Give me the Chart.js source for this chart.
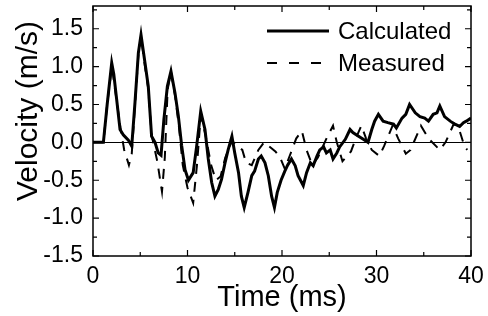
<!DOCTYPE html>
<html lang="en">
<head>
  <meta charset="UTF-8">
  <title>Velocity vs Time</title>
  <script src="https://cdn.jsdelivr.net/npm/chart.js"></script>
  <style>
    body { margin: 0; background: #fff; }
  </style>
</head>
<body>
<canvas id="myChart" width="488" height="316"></canvas>

<script>
  // values
  const calcTime = [0, 1.1, 1.5, 1.98, 2.2, 2.5, 2.86, 3.2, 3.74, 4.1, 4.44, 4.8, 5.08, 5.5, 5.85, 6.2, 6.56, 6.9, 7.2, 7.5, 7.87, 8.25, 8.68, 9.03, 9.38, 9.74, 10.1, 10.6, 10.97, 11.4, 11.85, 12.2, 12.56, 12.9, 13.26, 13.6, 13.97, 14.3, 14.7, 15.0, 15.4, 15.7, 16.0, 16.4, 16.8, 17.1, 17.5, 17.8, 18.2, 18.55, 18.9, 19.2, 19.5, 19.9, 20.3, 20.6, 21.0, 21.4, 21.7, 22.25, 22.6, 23.0, 23.3, 23.7, 24.0, 24.4, 24.7, 25.1, 25.4, 25.8, 26.1, 26.7, 27.2, 27.5, 28.1, 28.6, 29.1, 29.5, 29.8, 30.2, 30.7, 31.2, 31.8, 32.1, 32.7, 33.1, 33.5, 34.1, 34.6, 35.1, 35.5, 36.0, 36.4, 36.7, 37.2, 37.8, 38.3, 38.8, 39.2, 39.5, 40];
  const calcVel = [0, 0, 0.5, 1.05, 0.9, 0.57, 0.17, 0.1, 0.03, -0.05, 0.52, 1.18, 1.42, 1.05, 0.74, 0.08, 0.0, -0.14, -0.17, 0.3, 0.74, 0.94, 0.65, 0.35, -0.04, -0.36, -0.5, -0.4, -0.05, 0.41, 0.17, -0.22, -0.53, -0.71, -0.62, -0.49, -0.27, -0.1, 0.08, -0.14, -0.4, -0.71, -0.86, -0.66, -0.44, -0.38, -0.22, -0.18, -0.27, -0.44, -0.71, -0.86, -0.66, -0.5, -0.38, -0.3, -0.22, -0.31, -0.44, -0.57, -0.4, -0.27, -0.31, -0.18, -0.1, -0.06, -0.14, -0.1, -0.22, -0.14, -0.06, 0.04, 0.17, 0.13, 0.08, 0.04, 0.0, 0.17, 0.28, 0.37, 0.28, 0.26, 0.24, 0.19, 0.32, 0.37, 0.5, 0.39, 0.34, 0.32, 0.28, 0.37, 0.39, 0.48, 0.34, 0.28, 0.24, 0.21, 0.26, 0.28, 0.32];

  const measTime = [0, 1.1, 1.5, 2.0, 2.5, 2.9, 3.3, 3.8, 4.1, 4.45, 4.8, 5.08, 5.5, 5.85, 6.2, 6.8, 7.3, 7.6, 7.9, 8.25, 8.7, 9.1, 9.5, 10.0, 10.6, 11.0, 11.4, 11.9, 12.5, 13.0, 13.5, 14.0, 14.7, 15.3, 15.8, 16.2, 16.8, 17.5, 18.1, 18.6, 19.3, 19.8, 20.3, 20.9, 21.5, 22.1, 22.6, 23.2, 23.8, 24.7, 25.4, 25.8, 26.4, 27.3, 27.8, 28.4, 28.9, 29.5, 30.3, 30.8, 31.7, 32.3, 33.1, 33.6, 34.7, 35.5, 36.7, 37.3, 38.2, 38.8, 39.3, 39.6];
  const measVel = [0, 0, 0.5, 1.0, 0.55, 0.2, -0.1, -0.3, -0.15, 0.5, 1.15, 1.4, 1.0, 0.7, 0.1, -0.25, -0.65, -0.2, 0.7, 0.93, 0.6, 0.2, -0.3, -0.6, -0.8, -0.3, 0.35, 0.1, -0.3, -0.5, -0.45, -0.2, 0.02, -0.05, -0.1, -0.27, -0.3, -0.1, 0.0, -0.05, -0.12, -0.2, -0.35, -0.15, 0.05, 0.15, -0.1, -0.3, -0.2, 0.05, 0.22, 0.0, -0.25, -0.12, 0.05, 0.22, 0.05, -0.1, -0.18, -0.05, 0.22, 0.05, -0.15, -0.1, 0.22, 0.05, -0.1, 0.0, 0.25, 0.15, -0.05, -0.1];

  const xTickLabels = [0, 10, 20, 30, 40];
  const yTickLabels = [-1.5, -1.0, -0.5, 0.0, 0.5, 1.0, 1.5];

  const toPoints = (xs, ys) => xs.map((x, i) => ({ x: x, y: ys[i] }));

  const FONT = "'Liberation Sans', Arial, sans-serif";

  // frame, inward ticks, zero line, axis titles and legend
  const decor = {
    id: 'decor',
    beforeDatasetsDraw(chart) {
      const { ctx, chartArea: a, scales: { y } } = chart;
      ctx.save();
      ctx.strokeStyle = '#000';
      ctx.lineWidth = 1;
      const y0 = Math.round(y.getPixelForValue(0)) + 0.5;
      ctx.beginPath();
      ctx.moveTo(a.left, y0);
      ctx.lineTo(a.right, y0);
      ctx.stroke();
      ctx.restore();
    },
    afterDatasetsDraw(chart) {
      const { ctx, chartArea: a, scales: { x, y } } = chart;
      ctx.save();
      ctx.strokeStyle = '#000';
      ctx.lineWidth = 1.5;
      ctx.strokeRect(a.left, a.top, a.right - a.left, a.bottom - a.top);

      ctx.lineWidth = 1.2;
      ctx.beginPath();
      for (let t = 0; t <= 40; t += 5) {
        const px = x.getPixelForValue(t);
        const len = t % 10 === 0 ? 6 : 4;
        ctx.moveTo(px, a.bottom); ctx.lineTo(px, a.bottom - len);
        ctx.moveTo(px, a.top); ctx.lineTo(px, a.top + len);
      }
      for (let v = -1.5; v <= 1.76; v += 0.25) {
        const py = y.getPixelForValue(v);
        const major = Math.abs(v * 2 - Math.round(v * 2)) < 1e-6;
        const len = major ? 6 : 4;
        ctx.moveTo(a.left, py); ctx.lineTo(a.left + len, py);
        ctx.moveTo(a.right, py); ctx.lineTo(a.right - len, py);
      }
      ctx.stroke();

      // axis titles
      ctx.fillStyle = '#000';
      ctx.textAlign = 'center';
      ctx.textBaseline = 'alphabetic';
      ctx.font = '29px ' + FONT;
      ctx.fillText('Time (ms)', (a.left + a.right) / 2, 306);
      ctx.save();
      ctx.translate(37, 111);
      ctx.rotate(-Math.PI / 2);
      ctx.font = '30px ' + FONT;
      ctx.fillText('Velocity (m/s)', 0, 0);
      ctx.restore();

      // legend
      ctx.font = '24px ' + FONT;
      ctx.textAlign = 'left';
      ctx.textBaseline = 'middle';
      chart.data.datasets.forEach((ds, i) => {
        const ly = 31 + i * 32;
        ctx.lineWidth = ds.borderWidth;
        ctx.setLineDash(ds.legendDash || []);
        ctx.beginPath();
        ctx.moveTo(267, ly);
        ctx.lineTo(329, ly);
        ctx.stroke();
        ctx.setLineDash([]);
        ctx.fillText(ds.label, 338, ly + 1);
      });
      ctx.restore();
    }
  };

  const ctx = document.getElementById('myChart').getContext('2d');

  const config = {
    type: 'line',
    data: {
      datasets: [{
        label: 'Calculated',
        data: toPoints(calcTime, calcVel),
        borderColor: '#000',
        borderWidth: 3,
        pointRadius: 0,
        tension: 0,
        fill: false
      }, {
        label: 'Measured',
        data: toPoints(measTime, measVel),
        borderColor: '#000',
        borderWidth: 2,
        borderDash: [10, 8],
        legendDash: [10, 12],
        pointRadius: 0,
        tension: 0,
        fill: false
      }]
    },
    options: {
      responsive: false,
      animation: false,
      layout: { padding: { left: 0, top: 6, right: 17, bottom: 0 } },
      plugins: {
        legend: { display: false },
        tooltip: { enabled: false }
      },
      scales: {
        x: {
          type: 'linear',
          min: 0,
          max: 40,
          grid: { display: false, drawTicks: false },
          border: { display: false },
          afterBuildTicks: s => { s.ticks = xTickLabels.map(v => ({ value: v })); },
          afterFit: s => { s.height = 60; s.paddingLeft = 0; s.paddingRight = 0; },
          ticks: {
            padding: 7,
            maxRotation: 0,
            color: '#000',
            font: { family: FONT, size: 23 }
          }
        },
        y: {
          type: 'linear',
          min: -1.5,
          max: 1.8,
          grid: { display: false, drawTicks: false },
          border: { display: false },
          afterBuildTicks: s => { s.ticks = yTickLabels.map(v => ({ value: v })); },
          afterFit: s => { s.width = 93; s.paddingTop = 0; s.paddingBottom = 0; },
          ticks: {
            padding: 10,
            color: '#000',
            font: { family: FONT, size: 23 },
            callback: v => v.toFixed(1)
          }
        }
      }
    },
    plugins: [decor]
  };

  new Chart(ctx, config);
</script>
</body>
</html>
